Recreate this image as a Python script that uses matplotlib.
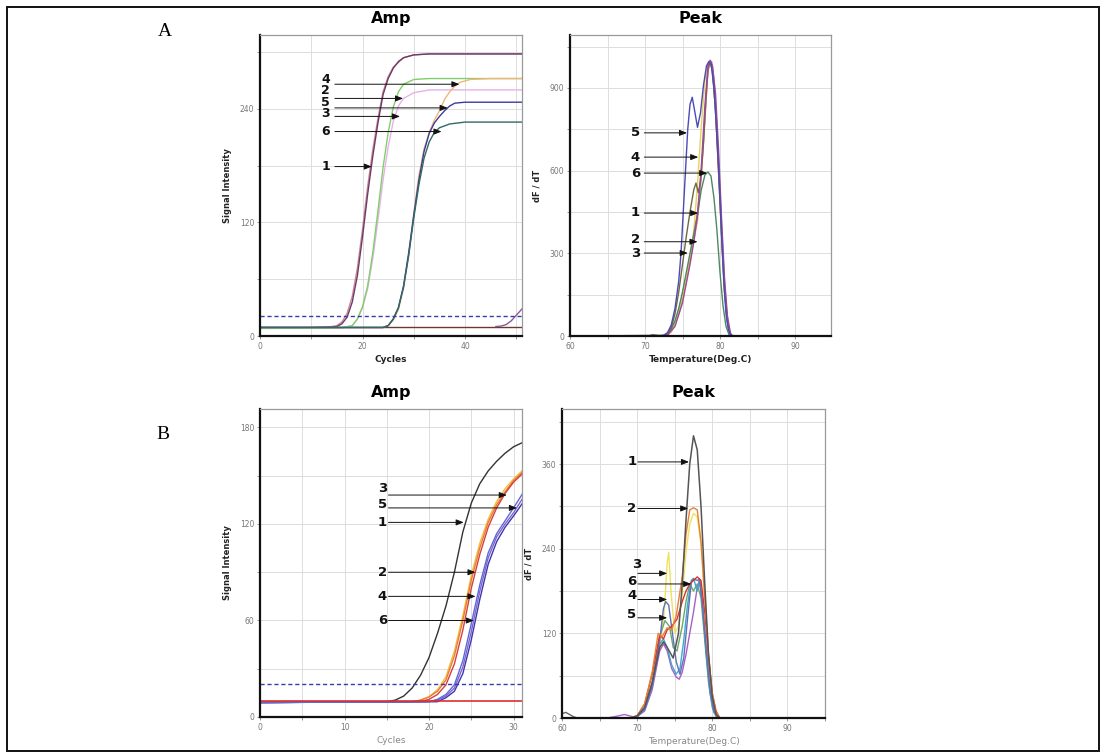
import matplotlib
matplotlib.use("Agg")
import matplotlib.pyplot as plt
from matplotlib.patches import Rectangle

# ---------------- DATA ----------------
# Panel A - Amplification (x = cycles, y = signal intensity)
A_AMP_THRESHOLD = 21
A_AMP_C1_X = [0, 10, 14, 15, 16, 17, 18, 19, 20, 21, 22, 23, 24, 25, 26, 27, 28, 30, 33, 51.5]
A_AMP_C1_Y = [9, 9, 9.5, 10, 13, 20, 36, 64, 105, 150, 190, 225, 255, 272, 283, 290, 294, 297, 298, 298]
A_AMP_C1B_X = [0, 10, 14, 15, 16, 17, 18, 19, 20, 21, 22, 23, 24, 25, 26, 28, 30, 33, 51.5]
A_AMP_C1B_Y = [9, 9, 10, 11, 15, 24, 42, 72, 113, 158, 197, 230, 258, 274, 284, 294, 297, 298, 298]
A_AMP_C2_X = [0, 16, 18, 19, 20, 21, 22, 23, 24, 25, 26, 27, 28, 30, 33, 51.5]
A_AMP_C2_Y = [8, 8.5, 11, 18, 30, 50, 82, 122, 165, 200, 227, 243, 251, 257, 260, 260]
A_AMP_C4_X = [0, 16, 18, 19, 20, 21, 22, 23, 24, 25, 26, 27, 28, 30, 33, 51.5]
A_AMP_C4_Y = [8, 8.5, 11, 18, 31, 53, 88, 132, 178, 215, 242, 258, 266, 271, 272, 272]
A_AMP_C6_X = [0, 24, 25, 26, 27, 28, 29, 30, 31, 32, 33, 34, 35, 37, 40, 51.5]
A_AMP_C6_Y = [9, 9, 11, 18, 30, 52, 85, 125, 160, 188, 205, 215, 220, 224, 226, 226]
A_AMP_C5_X = [0, 24, 25, 26, 27, 28, 29, 30, 31, 32, 33, 34, 35, 36, 37, 38, 40, 51.5]
A_AMP_C5_Y = [9, 9, 11, 18, 30, 53, 88, 128, 165, 195, 214, 225, 232, 238, 243, 246, 247, 247]
A_AMP_C3_X = [0, 24, 25, 26, 27, 28, 29, 30, 31, 32, 33, 34, 35, 36, 37, 38, 39, 41, 45, 51.5]
A_AMP_C3_Y = [9, 9, 11, 17, 28, 50, 85, 130, 170, 198, 215, 228, 238, 250, 258, 264, 268, 271, 272, 272]
A_AMP_BASE_X = [0, 51.5]
A_AMP_BASE_Y = [10, 10]
A_AMP_LATE_X = [46, 47, 48, 49, 50, 51.5]
A_AMP_LATE_Y = [10, 10.5, 12, 16, 22, 31]

# Panel A - Melting peak (x = temperature, y = dF/dT)
A_PK_BUMP_X = [60, 70.5, 71, 71.5, 72, 95]
A_PK_BUMP_Y = [0, 0, 5, 3, 0, 0]
A_PK_C5_X = [60, 72, 72.5, 73, 73.5, 74, 74.5, 74.8, 75.1, 75.4, 75.7, 76, 76.3, 76.6, 77, 77.4, 77.8, 78.2,
             78.5, 78.8, 79.2, 79.6, 79.9, 80.2, 80.5, 80.8, 81.1, 81.4, 81.7, 95]
A_PK_C5_Y = [0, 0, 3, 12, 40, 100, 200, 300, 450, 600, 750, 840, 866, 820, 757, 810, 910, 980,
             995, 990, 900, 720, 560, 370, 200, 80, 25, 5, 0, 0]
A_PK_C6_X = [60, 72.5, 73, 73.5, 74, 74.5, 75, 75.5, 76, 76.5, 77, 77.5, 78, 78.4, 78.8, 79.2, 79.6, 80,
             80.4, 80.8, 81.2, 81.5, 95]
A_PK_C6_Y = [0, 2, 8, 25, 55, 100, 160, 230, 300, 370, 440, 530, 585, 595, 580, 500, 380, 230,
             110, 35, 5, 0, 0]
A_PK_C1_X = [60, 72.5, 73, 73.5, 74, 74.5, 75, 75.5, 76, 76.5, 76.8, 77.1, 77.4, 77.8, 78.1, 78.4, 78.7,
             79, 79.4, 79.8, 80.2, 80.6, 81, 81.3, 81.6, 95]
A_PK_C1_Y = [0, 2, 8, 30, 80, 160, 260, 360, 450, 530, 555, 520, 560, 700, 850, 970, 995,
             960, 820, 600, 370, 160, 50, 10, 0, 0]
A_PK_C2_X = [60, 72.7, 73, 73.5, 74, 74.5, 75, 75.5, 76, 76.5, 77, 77.5, 78, 78.3, 78.6, 78.9, 79.2, 79.6,
             80, 80.4, 80.8, 81.2, 81.5, 95]
A_PK_C2_Y = [0, 0, 5, 20, 50, 95, 150, 215, 285, 360, 450, 580, 790, 930, 1000, 995, 930, 750,
             520, 290, 110, 25, 0, 0]
A_PK_C4_X = [60, 72.7, 73, 73.5, 74, 74.5, 75, 75.5, 76, 76.5, 77, 77.5, 78, 78.4, 78.7, 79, 79.4, 79.8,
             80.2, 80.6, 81, 81.3, 81.6, 95]
A_PK_C4_Y = [0, 0, 4, 18, 45, 90, 145, 210, 290, 380, 550, 760, 930, 990, 1000, 970, 850, 640,
             400, 190, 55, 10, 0, 0]
A_PK_C3_X = [60, 72.7, 73, 73.5, 74, 74.5, 75, 75.5, 76, 76.5, 77, 77.5, 78, 78.4, 78.7, 79, 79.4, 79.8,
             80.2, 80.6, 81, 81.4, 81.7, 95]
A_PK_C3_Y = [0, 0, 4, 15, 40, 80, 135, 200, 270, 345, 420, 580, 800, 960, 995, 960, 820, 600,
             370, 170, 50, 5, 0, 0]
A_PK_CM_X = [60, 72.5, 73, 74, 75, 76, 76.5, 77, 77.5, 78, 78.4, 78.7, 79, 79.4, 79.8, 80.2, 80.6, 81,
             81.4, 81.7, 95]
A_PK_CM_Y = [0, 0, 3, 35, 120, 260, 340, 440, 610, 840, 980, 1000, 980, 880, 680, 430, 210, 70,
             10, 0, 0]

# Panel B - Amplification
B_AMP_THRESHOLD = 20.3
B_AMP_C1_X = [0, 15, 16, 17, 18, 19, 20, 21, 22, 23, 24, 25, 26, 27, 28, 29, 30, 31.2]
B_AMP_C1_Y = [9, 9.5, 10.5, 13, 18, 26, 37, 52, 69, 90, 115, 133, 145, 153, 159, 164, 168, 171]
B_AMP_C3_X = [0, 18, 19, 20, 21, 22, 23, 24, 25, 26, 27, 28, 29, 30, 31.2]
B_AMP_C3_Y = [9, 9.5, 10.5, 12.5, 17, 25, 41, 63, 88, 108, 123, 134, 142, 148, 154]
B_AMP_C2_X = [0, 18, 19, 20, 21, 22, 23, 24, 25, 26, 27, 28, 29, 30, 31.2]
B_AMP_C2_Y = [9, 9.5, 10.5, 12.5, 16, 23, 38, 60, 85, 105, 121, 132, 140, 147, 153]
B_AMP_CR_X = [0, 19, 20, 21, 22, 23, 24, 25, 26, 27, 28, 29, 30, 31.2]
B_AMP_CR_Y = [9, 9.5, 11, 14, 20, 33, 54, 80, 101, 118, 130, 139, 146, 152]
B_AMP_C4_X = [0, 20, 21, 22, 23, 24, 25, 26, 27, 28, 29, 30, 31.2]
B_AMP_C4_Y = [9, 9.5, 11, 14, 20, 35, 58, 82, 102, 114, 122, 130, 140]
B_AMP_C5_X = [0, 20, 21, 22, 23, 24, 25, 26, 27, 28, 29, 30, 31.2]
B_AMP_C5_Y = [9, 9.5, 10.5, 13, 18, 31, 53, 78, 99, 112, 120, 127, 137]
B_AMP_C6_X = [0, 21, 22, 23, 24, 25, 26, 27, 28, 29, 30, 31.2]
B_AMP_C6_Y = [9, 9.5, 12, 16, 27, 48, 73, 95, 109, 118, 125, 134]
B_AMP_FLAT_X = [0, 31.2]
B_AMP_FLAT_Y = [10, 10]

# Panel B - Melting peak
B_PK_BUMP_X = [60, 60.5, 61, 61.5, 62, 95]
B_PK_BUMP_Y = [6, 8, 5, 2, 0, 0]
B_PK_BUMP2_X = [60, 66, 67.5, 68.3, 69, 70, 95]
B_PK_BUMP2_Y = [0, 0, 3, 5, 3, 0, 0]
B_PK_C1_X = [60, 69, 70, 71, 72, 73, 73.5, 74, 74.8, 75.5, 76, 76.5, 77, 77.5, 78, 78.5, 79, 79.5, 80,
             80.5, 81, 95]
B_PK_C1_Y = [0, 0, 3, 15, 50, 100, 108, 100, 85, 120, 190, 280, 360, 400, 380, 300, 190, 90, 30,
             5, 0, 0]
B_PK_C2_X = [60, 69, 70, 71, 72, 72.8, 73.3, 74, 74.6, 75.2, 76, 76.5, 77, 77.5, 78, 78.5, 79, 79.5, 80,
             80.5, 81, 95]
B_PK_C2_Y = [0, 0, 3, 20, 65, 120, 115, 128, 125, 145, 200, 260, 295, 298, 295, 250, 170, 90, 35,
             8, 0, 0]
B_PK_C3_X = [60, 69, 70, 71, 72, 73, 73.6, 74, 74.2, 74.5, 75, 75.5, 76, 76.5, 77, 77.5, 78, 78.5, 79,
             79.5, 80, 80.5, 81, 95]
B_PK_C3_Y = [0, 0, 3, 15, 50, 100, 150, 220, 235, 180, 120, 130, 175, 235, 275, 290, 285, 245, 170,
             90, 30, 5, 0, 0]
B_PK_CR_X = [60, 69, 70, 71, 72, 73, 73.5, 74, 74.6, 75.3, 76, 76.5, 77, 77.5, 78, 78.5, 79, 79.5, 80,
             80.5, 81, 95]
B_PK_CR_Y = [0, 0, 3, 20, 62, 118, 112, 125, 130, 140, 165, 180, 190, 195, 200, 195, 150, 85, 35,
             10, 0, 0]
B_PK_C4_X = [60, 69, 70, 71, 72, 73, 73.5, 73.8, 74.2, 74.7, 75.2, 75.7, 76.2, 76.7, 77.2, 77.5, 78,
             78.3, 78.7, 79.2, 79.7, 80.2, 80.8, 95]
B_PK_C4_Y = [0, 0, 2, 12, 45, 110, 155, 165, 160, 120, 80, 62, 85, 140, 192, 197, 195,
             197, 160, 95, 40, 10, 0, 0]
B_PK_CP_X = [60, 69, 70, 71, 72, 73, 73.5, 74, 74.6, 75.2, 75.6, 76, 76.5, 77, 77.5, 78, 78.3, 78.7,
             79.2, 79.7, 80.2, 80.8, 95]
B_PK_CP_Y = [0, 0, 2, 10, 40, 95, 105, 95, 70, 58, 55, 65, 90, 120, 150, 185, 195, 160,
             95, 40, 10, 0, 0]
B_PK_C6_X = [60, 69, 70, 71, 72, 73, 73.5, 74, 74.6, 75.2, 75.7, 76.2, 76.7, 77.2, 77.5, 78, 78.3,
             78.7, 79.2, 79.7, 80.2, 80.8, 95]
B_PK_C6_Y = [0, 0, 2, 12, 45, 105, 112, 100, 75, 62, 70, 110, 160, 195, 198, 180, 197,
             160, 90, 35, 8, 0, 0]
B_PK_C5_X = [60, 69, 70, 71, 72, 73, 73.7, 74.3, 74.8, 75.3, 76, 76.5, 77, 77.5, 78, 78.5, 79, 79.5,
             80, 80.5, 81, 95]
B_PK_C5_Y = [0, 0, 2, 14, 50, 115, 138, 130, 100, 95, 130, 165, 190, 180, 190, 170, 110, 50,
             15, 2, 0, 0]

# ---------------- FIGURE ----------------
W, H = 1107, 753
fig = plt.figure(figsize=(W / 100, H / 100), dpi=100)


def px_axes(l, t, r, b):
    return fig.add_axes([l / W, 1 - b / H, (r - l) / W, (b - t) / H])


def style(ax, xlim, ylim, xmaj, xmin, ymaj, ymin, xlabel, ylabel, title, xl_bold=True, xl_color="#222222"):
    ax.set_xlim(*xlim)
    ax.set_ylim(*ylim)
    ax.set_xticks(xmaj)
    ax.set_xticks(xmin, minor=True)
    ax.set_yticks(ymaj)
    ax.set_yticks(ymin, minor=True)
    ax.grid(True, which="both", color="#dddddd", lw=0.7)
    ax.set_axisbelow(True)
    ax.tick_params(which="both", direction="out", length=2.5, width=0.6, colors="#888888",
                   labelsize=5.5, labelcolor="#777777", pad=1.5)
    for s in ("left", "bottom"):
        ax.spines[s].set_linewidth(1.6)
        ax.spines[s].set_color("#111111")
    for s in ("top", "right"):
        ax.spines[s].set_linewidth(0.9)
        ax.spines[s].set_color("#999999")
    ax.set_xlabel(xlabel, fontsize=6.5, fontweight="bold" if xl_bold else "normal", color=xl_color, labelpad=3)
    ax.set_ylabel(ylabel, fontsize=6, fontweight="bold", color="#222222", labelpad=6)
    ax.set_title(title, fontsize=11.5, fontweight="bold", pad=8.5)


def label_arrow(ax, txt, tx, ty, ay, tail, tip, fs=9.5):
    ax.text(tx, ty, txt, fontsize=fs, fontweight="bold", ha="center", va="center", color="#111111")
    ax.annotate("", xy=(tip, ay), xytext=(tail, ay),
                arrowprops=dict(arrowstyle="-|>,head_length=0.45,head_width=0.18", lw=0.7,
                                color="#111111", shrinkA=0, shrinkB=0))


# ---- A Amp ----
ax = px_axes(260, 35, 522, 336)
style(ax, (0, 51.1), (0, 318), [0, 20, 40], range(0, 52, 10), [0, 120, 240], range(0, 319, 60),
      "Cycles", "Signal Intensity", "Amp")
ax.plot(A_AMP_BASE_X, A_AMP_BASE_Y, color="#6b3a2a", lw=1.0)
ax.plot(A_AMP_LATE_X, A_AMP_LATE_Y, color="#8a5a9a", lw=1.0)
ax.plot(A_AMP_C1B_X, A_AMP_C1B_Y, color="#c98a96", lw=1.0)
ax.plot(A_AMP_C1_X, A_AMP_C1_Y, color="#6e3a68", lw=1.0)
ax.plot(A_AMP_C2_X, A_AMP_C2_Y, color="#eab0ea", lw=1.0)
ax.plot(A_AMP_C4_X, A_AMP_C4_Y, color="#7fd06a", lw=1.0)
ax.plot(A_AMP_C3_X, A_AMP_C3_Y, color="#f2b57a", lw=1.0)
ax.plot(A_AMP_C5_X, A_AMP_C5_Y, color="#3b3b9c", lw=1.0)
ax.plot(A_AMP_C6_X, A_AMP_C6_Y, color="#2f6a66", lw=1.0)
ax.axhline(A_AMP_THRESHOLD, color="#3a3aa8", lw=1.0, ls=(0, (3, 2)))
for t, ty, ay, tip in [("4", 271, 266, 38.9), ("2", 259, 251, 27.9), ("5", 247, 241, 36.6),
                       ("3", 235, 232, 27.3), ("6", 216, 216, 35.4), ("1", 179, 179, 21.8)]:
    label_arrow(ax, t, 12.8, ty, ay, 14.6, tip, fs=9)

# ---- A Peak ----
ax = px_axes(570, 35, 831, 336)
style(ax, (60, 94.8), (0, 1092), [60, 70, 80, 90], range(60, 95, 5), [0, 300, 600, 900], range(0, 1092, 150),
      "Temperature(Deg.C)", "dF / dT", "Peak")
ax.plot(A_PK_BUMP_X, A_PK_BUMP_Y, color="#8a5a9a", lw=1.0)
ax.plot(A_PK_C3_X, A_PK_C3_Y, color="#eb9a5a", lw=1.0)
ax.plot(A_PK_C2_X, A_PK_C2_Y, color="#e58ab0", lw=1.0)
ax.plot(A_PK_C4_X, A_PK_C4_Y, color="#e2d45a", lw=1.0)
ax.plot(A_PK_C6_X, A_PK_C6_Y, color="#4d8a62", lw=1.0)
ax.plot(A_PK_C1_X, A_PK_C1_Y, color="#6e6a3e", lw=1.0)
ax.plot(A_PK_CM_X, A_PK_CM_Y, color="#9a4a9a", lw=1.0)
ax.plot(A_PK_C5_X, A_PK_C5_Y, color="#4a4ab8", lw=1.0)
for t, ty, ay, tip in [("5", 737, 737, 75.6), ("4", 649, 649, 77.1), ("6", 591, 591, 78.3),
                       ("1", 449, 446, 77.1), ("2", 350, 342, 77.0), ("3", 301, 301, 75.7)]:
    label_arrow(ax, t, 68.7, ty, ay, 69.9, tip)

# ---- B Amp ----
ax = px_axes(260, 409, 522, 717)
style(ax, (0, 31), (0, 191.5), [0, 10, 20, 30], range(0, 32, 5), [0, 60, 120, 180], range(0, 192, 30),
      "Cycles", "Signal Intensity", "Amp", xl_bold=False, xl_color="#888888")
ax.plot(B_AMP_C1_X, B_AMP_C1_Y, color="#333333", lw=1.0)
ax.plot(B_AMP_C3_X, B_AMP_C3_Y, color="#f0c040", lw=1.0)
ax.plot(B_AMP_C2_X, B_AMP_C2_Y, color="#ea7a30", lw=1.0)
ax.plot(B_AMP_CR_X, B_AMP_CR_Y, color="#d84040", lw=1.0)
ax.plot(B_AMP_C6_X, B_AMP_C6_Y, color="#3838b0", lw=1.0)
ax.plot(B_AMP_C5_X, B_AMP_C5_Y, color="#8860c8", lw=1.0)
ax.plot(B_AMP_C4_X, B_AMP_C4_Y, color="#5a6ad8", lw=1.0)
ax.plot(B_AMP_FLAT_X, B_AMP_FLAT_Y, color="#d83030", lw=1.2)
ax.axhline(B_AMP_THRESHOLD, color="#3a3aa8", lw=1.0, ls=(0, (3, 2)))
for t, ty, ay, tip in [("3", 142, 138, 29.2), ("5", 132, 130, 30.4), ("1", 121, 121, 24.1),
                       ("2", 90, 90, 25.5), ("4", 75, 75, 25.5), ("6", 60, 60, 25.3)]:
    label_arrow(ax, t, 14.5, ty, ay, 15.2, tip)

# ---- B Peak ----
ax = px_axes(562, 409, 825, 718)
style(ax, (60, 95), (0, 438), [60, 70, 80, 90], range(60, 96, 5), [0, 120, 240, 360], range(0, 438, 60),
      "Temperature(Deg.C)", "dF / dT", "Peak", xl_bold=False, xl_color="#888888")
ax.plot(B_PK_BUMP_X, B_PK_BUMP_Y, color="#666666", lw=1.0)
ax.plot(B_PK_BUMP2_X, B_PK_BUMP2_Y, color="#aa66cc", lw=1.0)
ax.plot(B_PK_C3_X, B_PK_C3_Y, color="#f2e060", lw=1.0)
ax.plot(B_PK_C5_X, B_PK_C5_Y, color="#6aa86a", lw=1.0)
ax.plot(B_PK_CP_X, B_PK_CP_Y, color="#a860c8", lw=1.0)
ax.plot(B_PK_C6_X, B_PK_C6_Y, color="#40a8c8", lw=1.0)
ax.plot(B_PK_C4_X, B_PK_C4_Y, color="#6070b8", lw=1.0)
ax.plot(B_PK_CR_X, B_PK_CR_Y, color="#dd3030", lw=1.0)
ax.plot(B_PK_C2_X, B_PK_C2_Y, color="#e88034", lw=1.0)
ax.plot(B_PK_C1_X, B_PK_C1_Y, color="#555555", lw=1.1)
label_arrow(ax, "1", 69.3, 363, 363, 70.1, 76.9)
label_arrow(ax, "2", 69.3, 297, 297, 70.1, 76.8)
label_arrow(ax, "3", 70.0, 217, 205, 70.1, 74.0)
label_arrow(ax, "6", 69.3, 194, 190, 70.1, 77.2)
label_arrow(ax, "4", 69.3, 174, 168, 70.1, 74.0)
label_arrow(ax, "5", 69.3, 146, 142, 70.1, 74.0)

# ---- panel letters and frame ----
fig.text(165 / W, 1 - 32 / H, "A", fontsize=14, family="Liberation Serif", ha="center", va="center")
fig.text(163 / W, 1 - 434 / H, "B", fontsize=14, family="Liberation Serif", ha="center", va="center")
fig.add_artist(Rectangle((7 / W, 1 - 751 / H), (1099 - 7) / W, (751 - 7) / H, transform=fig.transFigure,
                         fill=False, lw=1.4, ec="#111111"))

fig.savefig("out.png", dpi=100)
